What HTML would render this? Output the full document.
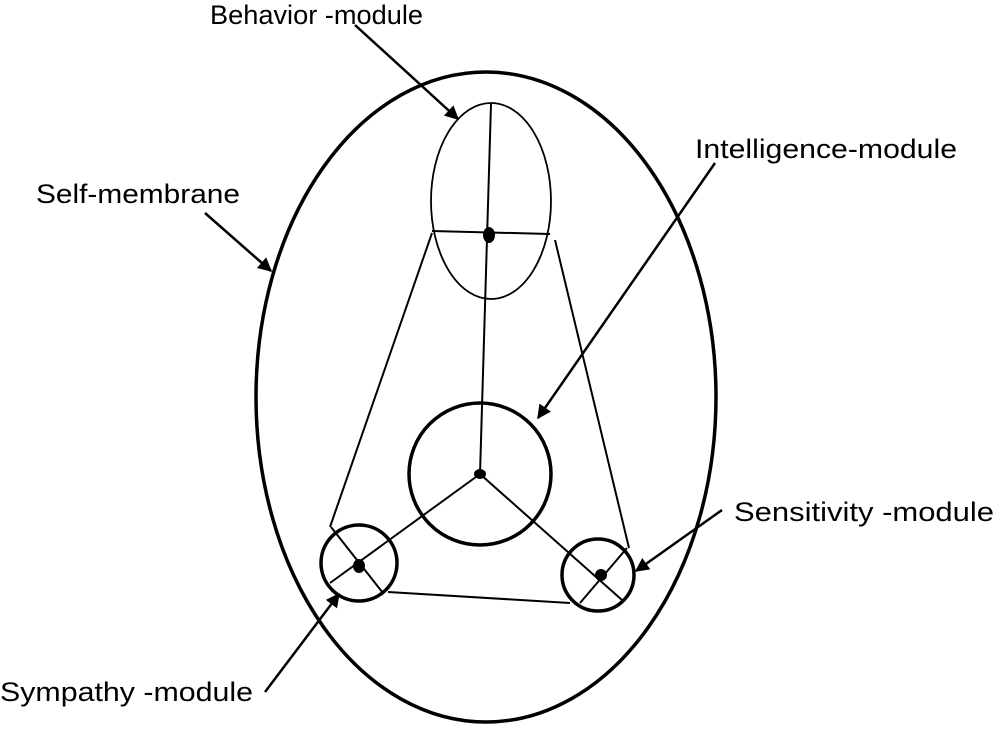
<!DOCTYPE html>
<html><head><style>body{margin:0;background:#fff}svg{display:block}text{font-family:"Liberation Sans",sans-serif;font-size:27px;fill:#000}</style></head><body>
<svg width="995" height="729" viewBox="0 0 995 729">
<defs>
<marker id="b" viewBox="0 0 10 10" refX="9" refY="5" markerWidth="16" markerHeight="14" orient="auto" markerUnits="userSpaceOnUse"><path d="M0,0L10,5L0,10z"/></marker></defs>
<g fill="none" stroke="#000">
<ellipse cx="486" cy="397" rx="230" ry="325" stroke-width="3.5"/>
<ellipse cx="491" cy="201" rx="60" ry="98" stroke-width="1.8"/>
<circle cx="480" cy="474" r="71" stroke-width="3.5"/>
<circle cx="359" cy="563" r="38" stroke-width="3.5"/>
<circle cx="598" cy="575" r="36" stroke-width="3.5"/>
<g stroke-width="2">
<line x1="432" y1="231" x2="550" y2="234"/>
<line x1="491" y1="104" x2="480" y2="474"/>
<line x1="432" y1="233" x2="330" y2="527"/>
<line x1="555" y1="240" x2="629" y2="548"/>
<line x1="388" y1="592" x2="570" y2="603"/>
<line x1="480" y1="474" x2="330" y2="583"/>
<line x1="480" y1="474" x2="622" y2="600"/>
<line x1="331" y1="527" x2="383" y2="593"/>
<line x1="580" y1="603" x2="627" y2="548"/>
</g>
<g stroke-width="2.5">
<line x1="355" y1="25" x2="458" y2="119" marker-end="url(#b)"/>
<line x1="715" y1="163" x2="538" y2="418" marker-end="url(#b)"/>
<line x1="205" y1="213" x2="271" y2="271" marker-end="url(#b)"/>
<line x1="722" y1="510" x2="636" y2="571" marker-end="url(#b)"/>
<line x1="265" y1="692" x2="339" y2="594" marker-end="url(#b)"/>
</g>
</g>
<ellipse cx="489" cy="235" rx="6" ry="8"/>
<ellipse cx="480" cy="474" rx="6" ry="5"/>
<ellipse cx="359" cy="566" rx="6" ry="7"/>
<ellipse cx="601" cy="575" rx="6" ry="6"/>
<text x="210" y="24" textLength="213" lengthAdjust="spacingAndGlyphs">Behavior -module</text>
<text x="695" y="158" textLength="262" lengthAdjust="spacingAndGlyphs">Intelligence-module</text>
<text x="36" y="203" textLength="204" lengthAdjust="spacingAndGlyphs">Self-membrane</text>
<text x="734" y="521" textLength="260" lengthAdjust="spacingAndGlyphs">Sensitivity  -module</text>
<text x="0" y="701" textLength="253" lengthAdjust="spacingAndGlyphs">Sympathy -module</text>
</svg>
</body></html>
